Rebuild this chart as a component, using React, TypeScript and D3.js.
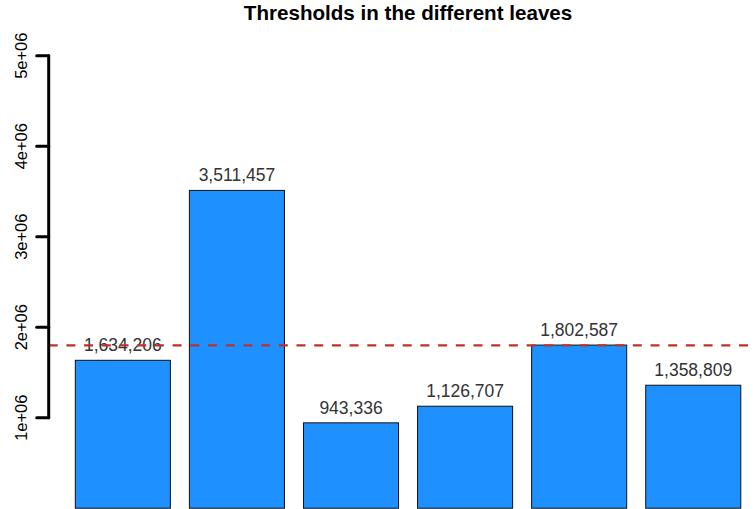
import React from 'react';
import * as d3 from 'd3';

const leaves = ['1', '2', '3', '4', '5', '6'];
const thresholds = [1634206, 3511457, 943336, 1126707, 1802587, 1358809];
const yTicks = [1e6, 2e6, 3e6, 4e6, 5e6];
const yTickLabels = ['1e+06', '2e+06', '3e+06', '4e+06', '5e+06'];
const cutoff = 1800000;

const W = 756;
const H = 509;
const FONT = '"Liberation Sans", Arial, Helvetica, sans-serif';

const App: React.FC = () => {
  // barplot style layout: width 1, space 0.2, usr extended 4%
  const x = d3.scaleLinear().domain([-0.08, 7.48]).range([48.7, 767.4]);
  const y = d3.scaleLinear().domain([0, 5e6]).range([508.2, 55.7]);
  const fmt = d3.format(',');

  const bars = thresholds.map((v, i) => ({
    leaf: leaves[i],
    value: v,
    x0: x(0.2 + i * 1.2),
    x1: x(1.2 + i * 1.2),
  }));

  const axisX = x(-0.08);

  return (
    <div style={{ position: 'fixed', left: 0, top: 0 }}>
      <svg width={W} height={H} style={{ display: 'block', background: '#fff' }}>
        <text
          x={(x(-0.08) + x(7.48)) / 2}
          y={20}
          textAnchor="middle"
          fontFamily={FONT}
          fontWeight="bold"
          fontSize={20.6}
          fill="#000"
        >
          Thresholds in the different leaves
        </text>

        {/* bars */}
        {bars.map((b) => (
          <rect
            key={b.leaf}
            x={b.x0}
            y={y(b.value)}
            width={b.x1 - b.x0}
            height={y(0) - y(b.value)}
            fill="#1E90FF"
            stroke="#111"
            strokeWidth={1}
          />
        ))}

        {/* value labels */}
        {bars.map((b) => (
          <text
            key={'l' + b.leaf}
            x={(b.x0 + b.x1) / 2}
            y={y(b.value) - 9}
            textAnchor="middle"
            fontFamily={FONT}
            fontSize={17.5}
            fill="#333"
          >
            {fmt(b.value)}
          </text>
        ))}

        {/* cutoff line */}
        <line
          x1={axisX}
          x2={W}
          y1={y(cutoff)}
          y2={y(cutoff)}
          stroke="#C0302B"
          strokeWidth={2.2}
          strokeDasharray="9,8.7"
        />

        {/* y axis */}
        <g stroke="#000" strokeWidth={3} strokeLinecap="round">
          <line x1={axisX} x2={axisX} y1={y(yTicks[0])} y2={y(yTicks[yTicks.length - 1])} />
          {yTicks.map((t) => (
            <line key={t} x1={axisX - 12} x2={axisX} y1={y(t)} y2={y(t)} />
          ))}
        </g>
        {yTicks.map((t, i) => (
          <text
            key={'t' + t}
            transform={`translate(26.5,${y(t)}) rotate(-90)`}
            textAnchor="middle"
            fontFamily={FONT}
            fontSize={16.5}
            fill="#000"
          >
            {yTickLabels[i]}
          </text>
        ))}
      </svg>
    </div>
  );
};

export default App;
